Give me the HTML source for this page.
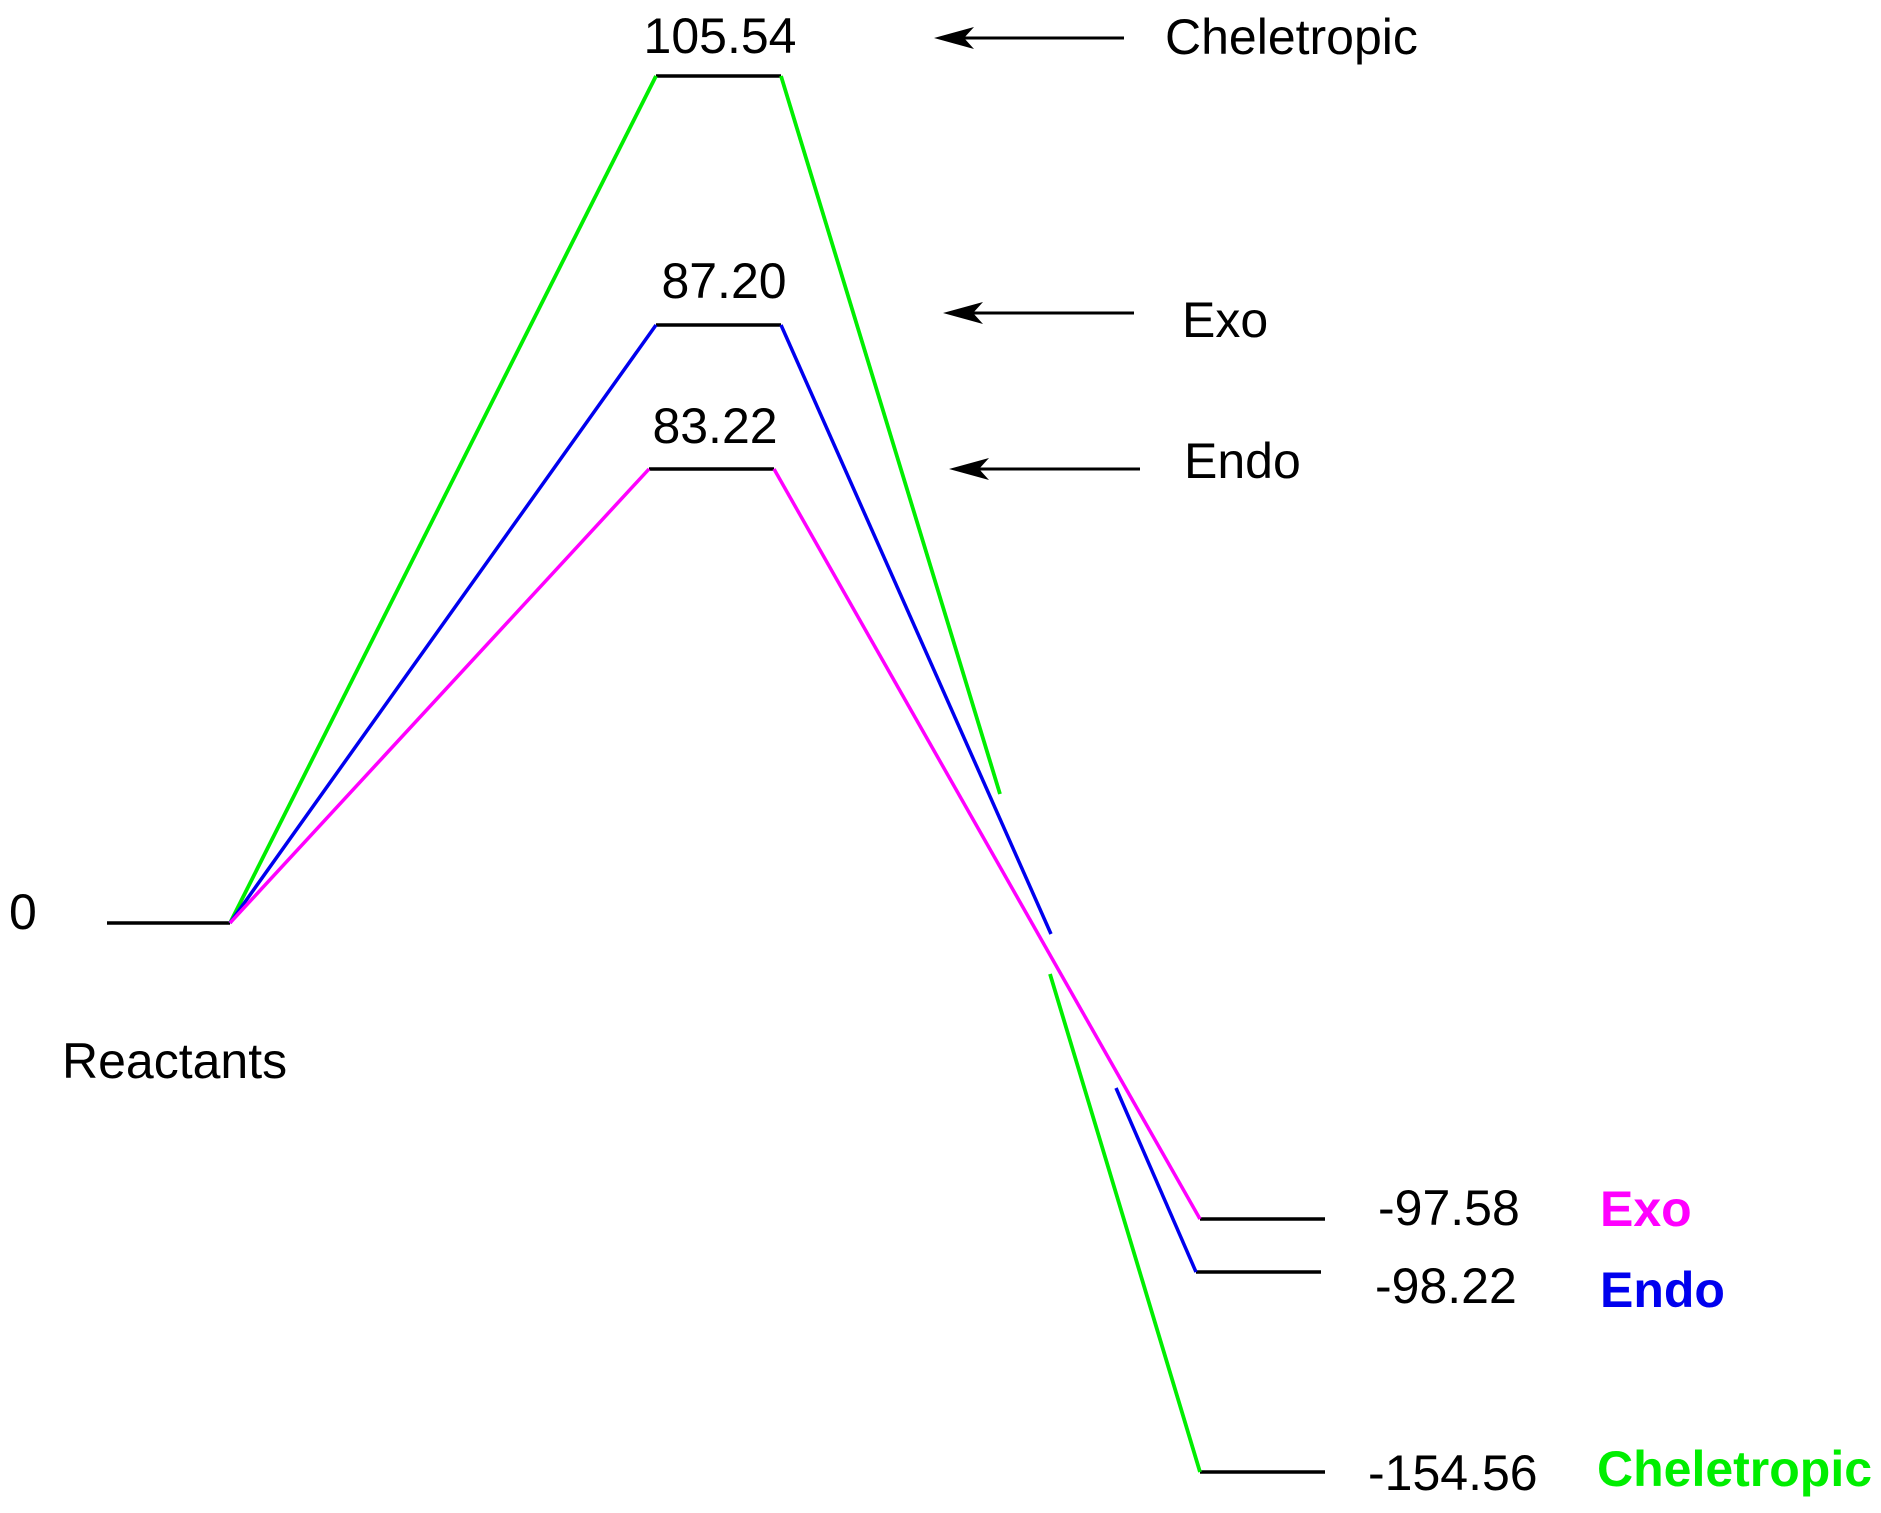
<!DOCTYPE html>
<html><head><meta charset="utf-8"><style>html,body{margin:0;padding:0;background:#fff}svg{display:block}</style></head>
<body>
<svg width="1881" height="1513" viewBox="0 0 1881 1513" xmlns="http://www.w3.org/2000/svg" font-family="Liberation Sans, Arial, sans-serif" font-size="50">
<g stroke-width="3.5" fill="none" stroke-linecap="butt">
<g stroke="#000">
<line x1="107" y1="923" x2="230" y2="923"/>
<line x1="656" y1="76" x2="781" y2="76"/>
<line x1="656" y1="325" x2="781" y2="325"/>
<line x1="649" y1="469" x2="774" y2="469"/>
<line x1="1200" y1="1219" x2="1325" y2="1219"/>
<line x1="1196" y1="1272" x2="1321" y2="1272"/>
<line x1="1200" y1="1472" x2="1325" y2="1472"/>
</g>
<g stroke="#00ee00" stroke-width="3.8">
<line x1="230" y1="923" x2="656" y2="76"/>
<line x1="781" y1="76" x2="1000" y2="794"/>
<line x1="1050" y1="974" x2="1200" y2="1472"/>
</g>
<g stroke="#0000ee">
<line x1="230" y1="923" x2="656" y2="325"/>
<line x1="781" y1="325" x2="1051" y2="934"/>
<line x1="1116" y1="1088" x2="1196" y2="1272"/>
</g>
<g stroke="#ff00ff">
<line x1="230" y1="923" x2="649" y2="469"/>
<line x1="774" y1="469" x2="1200" y2="1219"/>
</g>
<g stroke="#000" stroke-width="3">
<line x1="960" y1="38" x2="1124" y2="38"/>
<line x1="969" y1="313" x2="1134" y2="313"/>
<line x1="975" y1="469" x2="1140" y2="469"/>
</g>
</g>
<g fill="#000">
<path d="M934 38 L974 27 L964 38 L974 49 Z"/>
<path d="M943 313 L983 302 L973 313 L983 324 Z"/>
<path d="M949 469 L989 458 L979 469 L989 480 Z"/>
</g>
<g fill="#000">
<text x="720" y="53" text-anchor="middle">105.54</text>
<text x="724" y="298" text-anchor="middle">87.20</text>
<text x="715" y="443" text-anchor="middle">83.22</text>
<text x="1165" y="54">Cheletropic</text>
<text x="1182" y="337">Exo</text>
<text x="1184" y="478">Endo</text>
<text x="9" y="929">0</text>
<text x="62" y="1078">Reactants</text>
<text x="1378" y="1225">-97.58</text>
<text x="1375" y="1303">-98.22</text>
<text x="1368" y="1490">-154.56</text>
</g>
<g font-weight="bold">
<text x="1600" y="1226" fill="#ff00ff">Exo</text>
<text x="1600" y="1307" fill="#0000ee">Endo</text>
<text x="1597" y="1486" fill="#00ee00">Cheletropic</text>
</g>
</svg>
</body></html>
